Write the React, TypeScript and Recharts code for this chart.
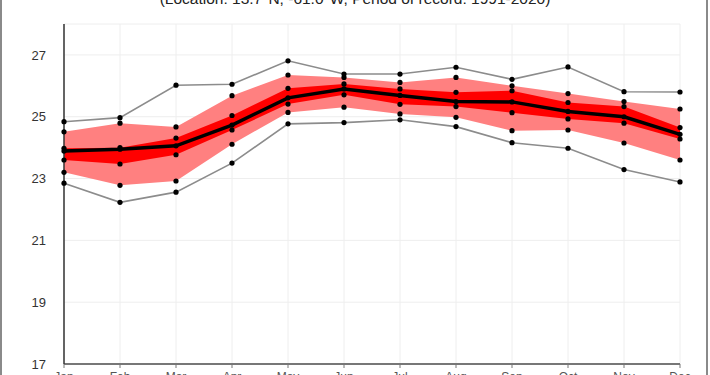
import { ComposedChart, CartesianGrid, XAxis, YAxis, Area, Line } from "recharts";

const months = ["Jan", "Feb", "Mar", "Apr", "May", "Jun", "Jul", "Aug", "Sep", "Oct", "Nov", "Dec"];
const maxVals = [24.84, 24.97, 26.02, 26.05, 26.81, 26.38, 26.38, 26.6, 26.21, 26.61, 25.81, 25.8];
const p90Vals = [24.51, 24.79, 24.67, 25.68, 26.35, 26.27, 26.11, 26.27, 26.0, 25.75, 25.49, 25.25];
const p75Vals = [23.98, 24.0, 24.31, 25.04, 25.92, 26.06, 25.9, 25.79, 25.84, 25.46, 25.33, 24.65];
const meanVals = [23.89, 23.95, 24.06, 24.73, 25.61, 25.9, 25.69, 25.49, 25.48, 25.17, 25.0, 24.43];
const p25Vals = [23.6, 23.47, 23.77, 24.57, 25.41, 25.71, 25.4, 25.33, 25.13, 24.93, 24.79, 24.28];
const p10Vals = [23.2, 22.78, 22.92, 24.11, 25.14, 25.31, 25.09, 24.98, 24.55, 24.57, 24.15, 23.6];
const minVals = [22.85, 22.23, 22.56, 23.5, 24.77, 24.81, 24.9, 24.68, 24.16, 23.98, 23.29, 22.89];
const yTicks = [17, 19, 21, 23, 25, 27];

const data = months.map((m, i) => ({
  month: m,
  max: maxVals[i],
  p90: p90Vals[i],
  p75: p75Vals[i],
  mean: meanVals[i],
  p25: p25Vals[i],
  p10: p10Vals[i],
  min: minVals[i],
  outer: [p10Vals[i], p90Vals[i]],
  inner: [p25Vals[i], p75Vals[i]],
}));

const dot = { r: 2.6, fill: "#000", stroke: "none" };
const font = "'Liberation Sans', Arial, sans-serif";

export default function App() {
  return (
    <div
      style={{
        position: "fixed",
        top: 0,
        left: 0,
        width: 710,
        height: 375,
        background: "#fff",
        overflow: "hidden",
        fontFamily: font,
      }}
    >
      <div style={{ position: "absolute", left: 0, top: 0, width: 2, height: 375, background: "#8a8a8a" }} />
      <div style={{ position: "absolute", left: 706, top: 0, width: 2, height: 375, background: "#8a8a8a" }} />
      <div
        style={{
          position: "absolute",
          left: 0,
          width: 710,
          top: -10,
          textAlign: "center",
          fontSize: 15.5,
          color: "#222",
        }}
      >
        (Location: 13.7°N, -61.0°W, Period of record: 1991-2020)
      </div>
      <ComposedChart width={710} height={375} data={data} margin={{ top: 24, right: 30, left: 24, bottom: 0 }}>
        <CartesianGrid stroke="#eeeeee" />
        <XAxis
          dataKey="month"
          height={11}
          tickSize={4}
          tickMargin={4}
          tick={{ fontSize: 12, fill: "#555", fontFamily: font }}
          stroke="#777"
          axisLine={{ stroke: "#777", strokeWidth: 2 }}
          interval={0}
        />
        <XAxis xAxisId="top" dataKey="month" orientation="top" height={0} tick={false} tickLine={false} axisLine={{ stroke: "#777", strokeWidth: 1.5 }} />
        <YAxis
          domain={[17, 28]}
          ticks={yTicks}
          width={40}
          tickLine={false}
          tickMargin={12}
          axisLine={{ stroke: "#333", strokeWidth: 1.5 }}
          tick={{ fontSize: 13, fill: "#333", fontFamily: font }}
        />
        <YAxis yAxisId="right" orientation="right" domain={[17, 28]} width={0} tick={false} tickLine={false} axisLine={{ stroke: "#777", strokeWidth: 1.5 }} />
        <Area dataKey="outer" type="linear" fill="#ff8080" fillOpacity={1} stroke="none" isAnimationActive={false} />
        <Area dataKey="inner" type="linear" fill="#ff0000" fillOpacity={1} stroke="none" isAnimationActive={false} />
        <Line dataKey="max" type="linear" stroke="#8c8c8c" strokeWidth={1.6} dot={dot} isAnimationActive={false} />
        <Line dataKey="min" type="linear" stroke="#8c8c8c" strokeWidth={1.6} dot={dot} isAnimationActive={false} />
        <Line dataKey="p90" type="linear" stroke="none" dot={dot} isAnimationActive={false} />
        <Line dataKey="p75" type="linear" stroke="none" dot={dot} isAnimationActive={false} />
        <Line dataKey="p25" type="linear" stroke="none" dot={dot} isAnimationActive={false} />
        <Line dataKey="p10" type="linear" stroke="none" dot={dot} isAnimationActive={false} />
        <Line dataKey="mean" type="linear" stroke="#000" strokeWidth={3.5} dot={dot} isAnimationActive={false} />
      </ComposedChart>
    </div>
  );
}
